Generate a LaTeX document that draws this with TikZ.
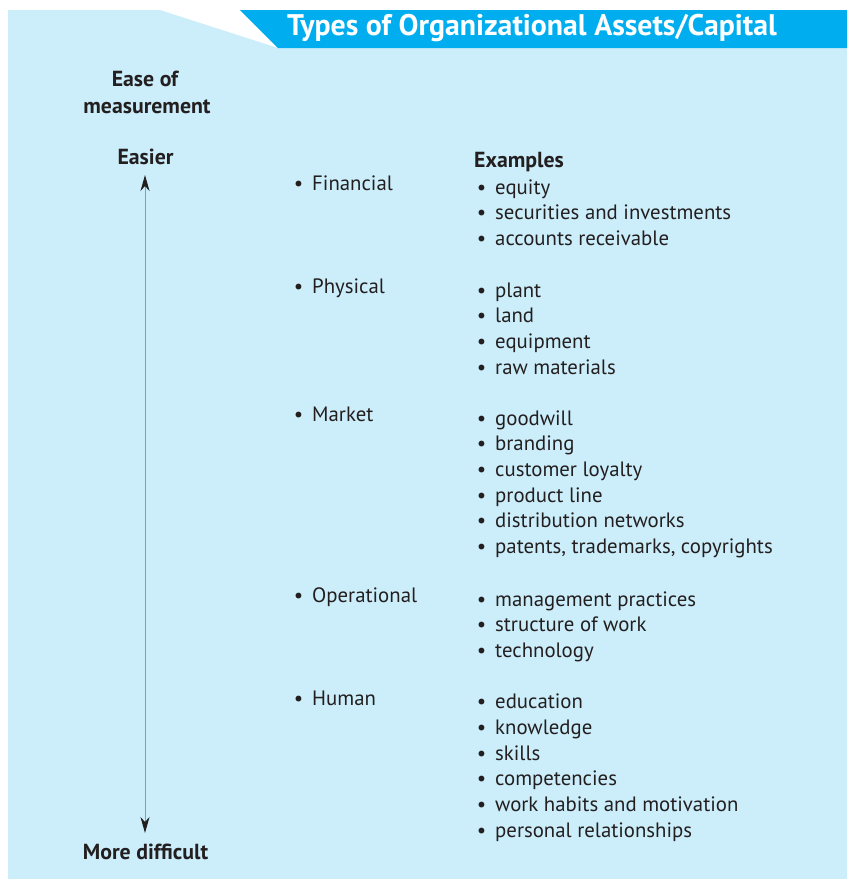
\documentclass[tikz,border=0pt]{standalone}
\usepackage{fontspec}
\setmainfont{PT Sans}
\usetikzlibrary{arrows.meta}
\definecolor{panel}{HTML}{CCEEFA}
\definecolor{banner}{HTML}{00AEEF}
\definecolor{ink}{HTML}{231F20}
\definecolor{axisline}{HTML}{8A9AA2}
\newcommand\bul{\llap{\textbullet\hspace{9pt}}}
\begin{document}
\begin{tikzpicture}[x=1pt,y=-1pt,
  txt/.style={font=\fontsize{20.8}{24}\selectfont, text=ink, inner sep=0pt, anchor=base west},
  boldtxt/.style={txt, font=\fontsize{21.8}{24}\selectfont\bfseries},
  axislabel/.style={font=\fontsize{21.8}{24}\selectfont\bfseries, text=ink, inner sep=0pt, anchor=base},
  titletxt/.style={font=\fontsize{29.8}{32}\selectfont\bfseries, text=white, inner sep=0pt, anchor=base west},
  scale arrow/.style={draw=axisline, line width=1pt,
    {Stealth[length=16pt,width=9pt,inset=5pt,color=ink]}-{Stealth[length=16pt,width=9pt,inset=5pt,color=ink]}}]
\useasboundingbox (0,0) rectangle (847,879);

% panel and title banner
\fill[panel] (8,10) -- (160,10) -- (278,48) -- (847,48) -- (847,879) -- (8,879) -- cycle;
\fill[banner] (240,10) -- (847,10) -- (847,48) -- (278,48) -- cycle;
\node[titletxt] (title) at (287,35) {Types of Organizational Assets/Capital};

% measurement scale
\node[axislabel] (ease1) at (145,86.7) {Ease of};
\node[axislabel] (ease2) at (147,113) {measurement};
\node[axislabel] (easier) at (145.5,164) {Easier};
\node[axislabel] (harder) at (145.5,859) {More difficult};
\coordinate (top) at (145,175);
\coordinate (bottom) at (145,833);
\draw[scale arrow] (top) -- (bottom);

% asset categories
\node[txt] (financial) at (312,190.7) {\bul Financial};
\node[txt] (physical) at (312,293.5) {\bul Physical};
\node[txt] (market) at (312,421.5) {\bul Market};
\node[txt] (operational) at (312,602.7) {\bul Operational};
\node[txt] (human) at (312,705.7) {\bul Human};

% examples
\node[boldtxt] (examples) at (474,167.3) {Examples};
\node[txt] (f1) at (495,194) {\bul equity};
\node[txt] (f2) at (495,219.7) {\bul securities and investments};
\node[txt] (f3) at (495,245.4) {\bul accounts receivable};

\node[txt] (p1) at (495,297) {\bul plant};
\node[txt] (p2) at (495,322.7) {\bul land};
\node[txt] (p3) at (495,348.4) {\bul equipment};
\node[txt] (p4) at (495,374.1) {\bul raw materials};

\node[txt] (m1) at (495,425) {\bul goodwill};
\node[txt] (m2) at (495,450.7) {\bul branding};
\node[txt] (m3) at (495,476.4) {\bul customer loyalty};
\node[txt] (m4) at (495,502.1) {\bul product line};
\node[txt] (m5) at (495,527.8) {\bul distribution networks};
\node[txt] (m6) at (495,553.5) {\bul patents, trademarks, copyrights};

\node[txt] (o1) at (495,606) {\bul management practices};
\node[txt] (o2) at (495,631.7) {\bul structure of work};
\node[txt] (o3) at (495,657.4) {\bul technology};

\node[txt] (h1) at (495,708.7) {\bul education};
\node[txt] (h2) at (495,734.4) {\bul knowledge};
\node[txt] (h3) at (495,760.1) {\bul skills};
\node[txt] (h4) at (495,785.8) {\bul competencies};
\node[txt] (h5) at (495,811.5) {\bul work habits and motivation};
\node[txt] (h6) at (495,837.2) {\bul personal relationships};
\end{tikzpicture}
\end{document}
